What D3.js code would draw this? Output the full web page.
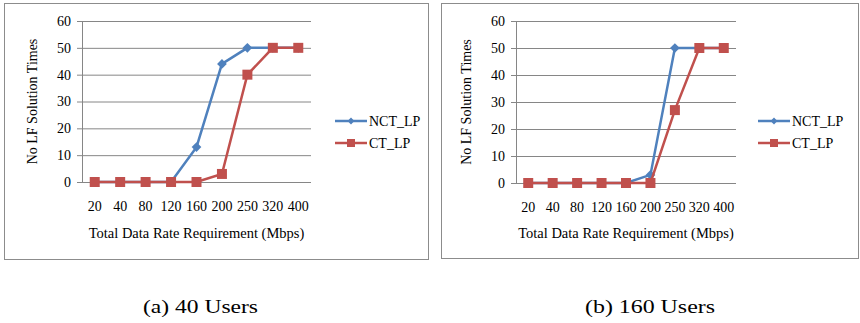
<!DOCTYPE html>
<html>
<head>
<meta charset="utf-8">
<script src="https://cdn.jsdelivr.net/npm/d3@7"></script>
<style>
  body { margin: 0; background: #fff; }
</style>
</head>
<body>
<div id="chart"></div>
<script>
// Data
const categories = ['20', '40', '80', '120', '160', '200', '250', '320', '400'];
const seriesNames = ['NCT_LP', 'CT_LP'];
const yTicks = [0, 10, 20, 30, 40, 50, 60];

// (a) 40 users
const nct40 = [0, 0, 0, 0, 13, 44, 50, 50, 50];
const ct40 = [0, 0, 0, 0, 0, 3, 40, 50, 50];
// (b) 160 users
const nct160 = [0, 0, 0, 0, 0, 3, 50, 50, 50];
const ct160 = [0, 0, 0, 0, 0, 0, 27, 50, 50];

const captions = ['(a) 40 Users', '(b) 160 Users'];
const colors = ['#4f81bd', '#c0504d'];
const serif = '"Liberation Serif"';

const width = 860, height = 323;
const svg = d3.select('#chart').append('svg')
  .attr('width', width)
  .attr('height', height);

const panels = [
  { frame: [4, 3, 424, 256], plot: { left: 82, right: 311, top: 21, bottom: 182 },
    legendX: 335, caption: [200.5, 115], data: [nct40, ct40] },
  { frame: [441, 3, 417, 255], plot: { left: 516, right: 736, top: 21, bottom: 183 },
    legendX: 758, caption: [650, 130], data: [nct160, ct160] }
];

panels.forEach((p, pi) => {
  const g = svg.append('g');

  // outer frame
  g.append('rect')
    .attr('x', p.frame[0] + 0.5).attr('y', p.frame[1] + 0.5)
    .attr('width', p.frame[2]).attr('height', p.frame[3])
    .attr('fill', 'none').attr('stroke', '#8c8c8c').attr('stroke-width', 1);

  const x = d3.scaleBand().domain(categories).range([p.plot.left, p.plot.right]);
  const y = d3.scaleLinear().domain([0, 60]).range([p.plot.bottom, p.plot.top]);

  // gridlines + y axis labels
  const yAxis = g.append('g')
    .attr('transform', `translate(${p.plot.left},0)`)
    .call(d3.axisLeft(y).tickValues(yTicks).tickSize(5).tickPadding(6));
  yAxis.select('.domain').attr('stroke', '#868686');
  yAxis.selectAll('.tick line').attr('stroke', '#868686');
  yAxis.selectAll('.tick text')
    .style('font-family', serif).style('font-size', '14px').attr('fill', '#000');
  yAxis.selectAll('.tick').append('line')
    .attr('x1', 0).attr('x2', p.plot.right - p.plot.left)
    .attr('stroke', '#868686').attr('stroke-width', 1);

  // x axis labels
  const xAxis = g.append('g')
    .attr('transform', `translate(0,${p.plot.bottom})`)
    .call(d3.axisBottom(x).tickSize(0).tickPadding(19));
  xAxis.select('.domain').remove();
  xAxis.selectAll('.tick text')
    .style('font-family', serif).style('font-size', '14px').attr('fill', '#000');

  // axis titles
  g.append('text')
    .attr('x', (p.plot.left + p.plot.right) / 2)
    .attr('y', 238)
    .attr('text-anchor', 'middle')
    .style('font-family', serif).style('font-size', '14.5px')
    .text('Total Data Rate Requirement (Mbps)');
  g.append('text')
    .attr('transform', `translate(${p.plot.left - 45},${(p.plot.top + p.plot.bottom) / 2}) rotate(-90)`)
    .attr('text-anchor', 'middle')
    .style('font-family', serif).style('font-size', '14px')
    .text('No LF Solution Times');

  const line = d3.line()
    .x((d, i) => x(categories[i]) + x.bandwidth() / 2)
    .y(d => y(d));

  [0, 1].forEach(si => {
    const vals = p.data[si];
    g.append('path')
      .datum(vals)
      .attr('d', line)
      .attr('fill', 'none')
      .attr('stroke', colors[si])
      .attr('stroke-width', 2.5);
    const pts = g.append('g').selectAll('path')
      .data(vals)
      .enter()
      .append('path')
      .attr('transform', (d, i) => `translate(${x(categories[i]) + x.bandwidth() / 2},${y(d)})`)
      .attr('fill', colors[si]);
    if (si === 0) {
      pts.attr('d', d3.symbol(d3.symbolDiamond2, 60)());
    } else {
      pts.attr('d', 'M-5,-5H5V5H-5Z');
    }
  });

  // legend
  seriesNames.forEach((name, si) => {
    const ly = 121 + si * 22;
    const lg = g.append('g');
    lg.append('line')
      .attr('x1', p.legendX).attr('x2', p.legendX + 32)
      .attr('y1', ly).attr('y2', ly)
      .attr('stroke', colors[si]).attr('stroke-width', 2.5);
    const cx = p.legendX + 16;
    if (si === 0) {
      lg.append('path').attr('transform', `translate(${cx},${ly})`)
        .attr('d', d3.symbol(d3.symbolDiamond2, 30)()).attr('fill', colors[si]);
    } else {
      lg.append('path').attr('transform', `translate(${cx},${ly})`)
        .attr('d', 'M-4,-4H4V4H-4Z').attr('fill', colors[si]);
    }
    lg.append('text')
      .attr('x', p.legendX + 34).attr('y', ly + 5)
      .style('font-family', serif).style('font-size', '14px')
      .text(name);
  });

  // caption (the reference glyphs are stretched horizontally)
  svg.append('text')
    .attr('x', p.caption[0] - p.caption[1] / 2).attr('y', 313)
    .attr('textLength', p.caption[1])
    .attr('lengthAdjust', 'spacingAndGlyphs')
    .style('font-family', serif).style('font-size', '19px')
    .text(captions[pi]);
});
</script>
</body>
</html>
